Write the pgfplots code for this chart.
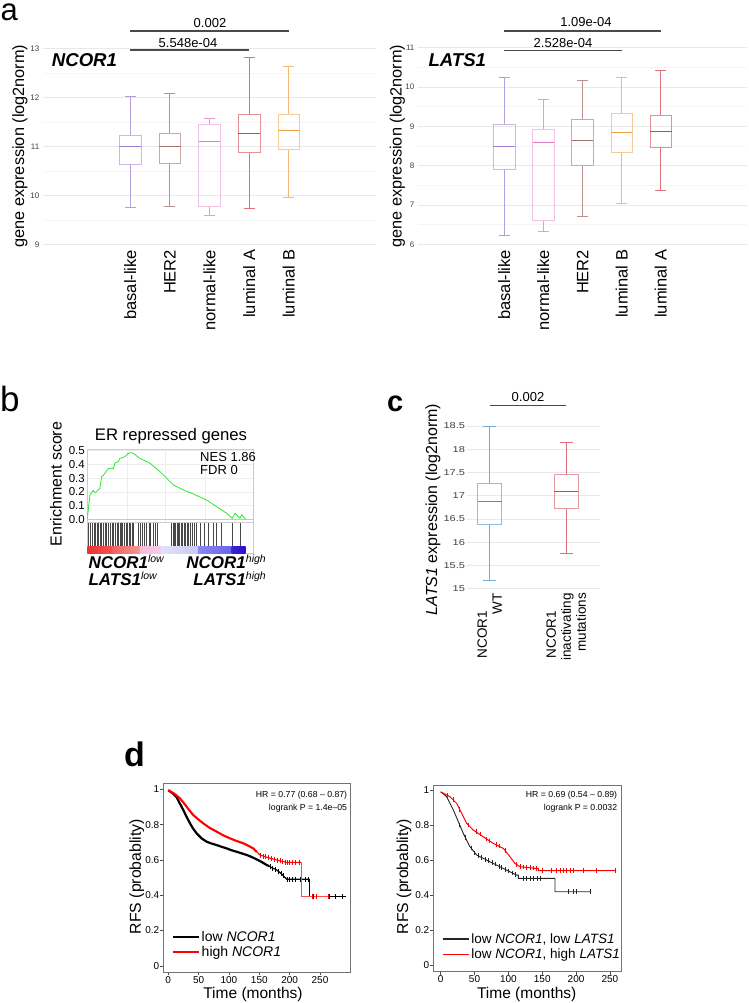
\documentclass[border=0pt]{standalone}
\usepackage{pgfplots}
\pgfplotsset{compat=1.18}
\usepgfplotslibrary{statistics}
\usepackage{fontspec}
\setmainfont{Liberation Sans}
\newcommand{\fs}[2]{\fontsize{#1}{#2}\selectfont}
\definecolor{cbas}{HTML}{9A7FD1}
\definecolor{cbasL}{HTML}{C9B9E9}
\definecolor{cher}{HTML}{A26E6A}
\definecolor{cherL}{HTML}{CBAAA6}
\definecolor{cnor}{HTML}{E27BC4}
\definecolor{cnorL}{HTML}{F1C2E3}
\definecolor{clA}{HTML}{D8404E}
\definecolor{clAL}{HTML}{E49098}
\definecolor{clB}{HTML}{F4A046}
\definecolor{clBL}{HTML}{F8C994}
\definecolor{cwt}{HTML}{4A8CC8}
\definecolor{cwtL}{HTML}{95BCE0}
\definecolor{cmut}{HTML}{D8404E}
\definecolor{cmutL}{HTML}{E59AA1}
\definecolor{gsgreen}{HTML}{2EE62E}
\definecolor{sigbar}{HTML}{4A4A4A}
\pgfplotsset{
  gg/.style={
    scale only axis, clip=false,
    axis line style={draw=none},
    major tick length=0pt, minor tick length=0pt,
    ymajorgrids,
    major grid style={draw=black!9, line width=0.6pt},
    minor grid style={draw=black!4, line width=0.5pt},
    /pgf/number format/assume math mode=true,
    yticklabel style={font=\fs{8}{9}, text=black!75, inner sep=0pt},
    yticklabel shift=3.5pt,
    boxplot/draw direction=y,
  },
  bx/.style n args={8}{
    boxplot prepared={draw position=#1, lower whisker=#2, lower quartile=#3, median=#4, upper quartile=#5, upper whisker=#6},
    draw=#8, line width=0.75pt,
    boxplot/every whisker/.style={draw=#7!75},
    boxplot/every median/.style={draw=#7, line width=1pt},
  },
  sig/.style={draw=sigbar, line width=1.6pt, forget plot},
  km/.style={
    scale only axis,
    axis line style={draw=black!55, line width=0.6pt},
    tick align=outside, major tick length=3pt, tick pos=left,
    tick style={draw=black!70, line width=0.5pt},
    ticklabel style={font=\fs{10}{11}, inner sep=0.8pt},
    /pgf/number format/assume math mode=true,
    xtick={0,50,100,150,200,250}, ytick={0,0.2,0.4,0.6,0.8,1},
    legend cell align=left,
    legend image code/.code={\draw[##1] (0pt,0pt) -- (26pt,0pt);},
  },
}
\begin{document}
\begin{tikzpicture}
\path[use as bounding box] (0pt,0pt) rectangle (748pt,-1003pt);

% ================= panel a, left =================
\node[anchor=base west, inner sep=0pt, font=\fs{31}{33}] at (0.5pt,-21pt) {a};
\begin{axis}[gg, at={(43pt,-45.85pt)}, anchor=north west, width=333pt, height=200.9pt,
  xmin=-1.2, xmax=7.2, ymin=8.95, ymax=13.05,
  ytick={9,10,11,12,13}, minor y tick num=1, yminorgrids,
  xtick={1,2,3,4,5}, xticklabels={basal-like,HER2,normal-like,luminal A,luminal B},
  x tick label style={rotate=90, anchor=east, font=\fs{16.5}{19}, inner sep=0pt},
  xticklabel shift=3pt,
  boxplot/box extend=0.55, boxplot/whisker extend=0.28]
\addplot[bx={1}{9.76}{10.63}{11.0}{11.23}{12.01}{cbas}{cbasL}] coordinates {};
\addplot[bx={2}{9.78}{10.66}{11.0}{11.27}{12.08}{cher}{cherL}] coordinates {};
\addplot[bx={3}{9.59}{9.78}{11.09}{11.44}{11.57}{cnor}{cnorL}] coordinates {};
\addplot[bx={4}{9.73}{10.87}{11.26}{11.66}{12.82}{clA}{clAL}] coordinates {};
\addplot[bx={5}{9.95}{10.94}{11.32}{11.65}{12.63}{clB}{clBL}] coordinates {};
\addplot[sig] coordinates {(1,13.353) (5,13.353)};
\addplot[sig] coordinates {(1,12.965) (4,12.965)};
\end{axis}
\node[anchor=base, font=\fs{13}{15}] at (210pt,-27.3pt) {0.002};
\node[anchor=base, font=\fs{13}{15}] at (188pt,-48pt) {5.548e-04};
\node[anchor=base west, inner sep=0pt, font=\fs{18.6}{20}\bfseries\itshape] at (51.7pt,-66.7pt) {NCOR1};
\node[rotate=90, font=\fs{16.3}{18}] at (20pt,-146pt) {gene expression (log2norm)};

% ================= panel a, right =================
\begin{axis}[gg, at={(418pt,-45.85pt)}, anchor=north west, width=329pt, height=200.9pt,
  xmin=-1.2, xmax=7.2, ymin=5.94, ymax=11.047,
  ytick={6,7,8,9,10,11}, minor y tick num=1, yminorgrids,
  xtick={1,2,3,4,5}, xticklabels={basal-like,normal-like,HER2,luminal B,luminal A},
  x tick label style={rotate=90, anchor=east, font=\fs{16.5}{19}, inner sep=0pt},
  xticklabel shift=3pt,
  boxplot/box extend=0.55, boxplot/whisker extend=0.28]
\addplot[bx={1}{6.23}{7.90}{8.48}{9.04}{10.24}{cbas}{cbasL}] coordinates {};
\addplot[bx={2}{6.33}{6.62}{8.58}{8.92}{9.69}{cnor}{cnorL}] coordinates {};
\addplot[bx={3}{6.72}{8.02}{8.64}{9.18}{10.18}{cher}{cherL}] coordinates {};
\addplot[bx={4}{7.04}{8.35}{8.84}{9.32}{10.25}{clB}{clBL}] coordinates {};
\addplot[bx={5}{7.37}{8.46}{8.88}{9.28}{10.42}{clA}{clAL}] coordinates {};
\addplot[sig] coordinates {(1,11.432) (5,11.432)};
\addplot[sig] coordinates {(1,10.924) (4,10.924)};
\end{axis}
\node[anchor=base, font=\fs{13}{15}] at (586pt,-26.7pt) {1.09e-04};
\node[anchor=base, font=\fs{13}{15}] at (563pt,-47.3pt) {2.528e-04};
\node[anchor=base west, inner sep=0pt, font=\fs{18.6}{20}\bfseries\itshape] at (428.3pt,-66.7pt) {LATS1};
\node[rotate=90, font=\fs{16.3}{18}] at (397.5pt,-146pt) {gene expression (log2norm)};

% ================= panel b =================
\node[anchor=base west, inner sep=0pt, font=\fs{35}{38}] at (0pt,-411.7pt) {b};
\node[font=\fs{16.7}{18}] at (171pt,-435.7pt) {ER repressed genes};
\begin{axis}[scale only axis, at={(87.3pt,-449pt)}, anchor=north west, width=166pt, height=73.7pt,
  xmin=0, xmax=1, ymin=-0.025, ymax=0.512,
  axis line style={draw=black!20, line width=0.5pt},
  xtick={0.24,0.47,0.71}, xticklabels={}, ytick={0,0.1,0.2,0.3,0.4,0.5},
  major tick length=0pt, xmajorgrids, ymajorgrids,
  major grid style={draw=black!7, line width=0.4pt},
  /pgf/number format/assume math mode=true,
  yticklabel style={font=\fs{11.5}{12}, inner sep=0pt, /pgf/number format/.cd, fixed, fixed zerofill, precision=1},
  yticklabel shift=2.3pt]
\addplot[draw=black!22, line width=0.5pt] coordinates {(0,0) (1,0)};
\addplot[draw=gsgreen, line width=0.8pt] coordinates {
(0.0,0.0) (0.006,0.068) (0.016,0.177) (0.036,0.21) (0.046,0.195) (0.056,0.20) (0.066,0.215) (0.076,0.225)
(0.086,0.31) (0.096,0.32) (0.106,0.335) (0.127,0.37) (0.140,0.372) (0.157,0.37) (0.167,0.41) (0.187,0.42)
(0.197,0.444) (0.227,0.456) (0.247,0.48) (0.267,0.485) (0.277,0.48) (0.317,0.444) (0.378,0.408)
(0.438,0.347) (0.518,0.25) (0.578,0.214) (0.639,0.184) (0.719,0.14) (0.779,0.092) (0.839,0.044)
(0.873,0.007) (0.890,0.044) (0.920,0.007) (0.930,0.032) (0.954,0.0)};
\end{axis}
\begin{axis}[scale only axis, at={(87.3pt,-522.7pt)}, anchor=north west, width=166pt, height=30.6pt,
  xmin=0, xmax=1, ymin=0, ymax=1, axis line style={draw=black!20, line width=0.5pt},
  xtick=\empty, ytick=\empty]
\addplot[ycomb, draw=black!72, line width=0.45pt, mark=none] coordinates {
(0.006,0.98) (0.016,0.98) (0.028,0.98) (0.040,0.98) (0.050,0.98) (0.060,0.98) (0.068,0.98) (0.076,0.98)
(0.086,0.98) (0.098,0.98) (0.108,0.98) (0.116,0.98) (0.127,0.98) (0.137,0.98) (0.149,0.98) (0.159,0.98)
(0.169,0.98) (0.181,0.98) (0.189,0.98) (0.197,0.98) (0.205,0.98) (0.213,0.98) (0.223,0.98) (0.233,0.98)
(0.243,0.98) (0.253,0.98) (0.261,0.98) (0.269,0.98) (0.277,0.98) (0.307,0.98) (0.317,0.98) (0.333,0.98)
(0.343,0.98) (0.357,0.98) (0.371,0.98) (0.382,0.98) (0.398,0.98) (0.410,0.98) (0.422,0.98) (0.508,0.98)
(0.516,0.98) (0.524,0.98) (0.532,0.98) (0.540,0.98) (0.548,0.98) (0.556,0.98) (0.564,0.98) (0.572,0.98)
(0.582,0.98) (0.590,0.98) (0.600,0.98) (0.610,0.98) (0.620,0.98) (0.633,0.98) (0.645,0.98) (0.659,0.98)
(0.679,0.98) (0.703,0.98) (0.729,0.98) (0.759,0.98) (0.779,0.98) (0.809,0.98) (0.873,0.98) (0.920,0.98)};
\addplot[draw=none, left color={rgb,255:red,238;green,48;blue,48}, right color={rgb,255:red,240;green,84;blue,84}] coordinates {(0,0.216) (0.15,0.216)} \closedcycle;
\addplot[draw=none, left color={rgb,255:red,240;green,96;blue,96}, right color={rgb,255:red,244;green,150;blue,150}] coordinates {(0.15,0.216) (0.317,0.216)} \closedcycle;
\addplot[draw=none, left color={rgb,255:red,246;green,186;blue,221}, right color={rgb,255:red,244;green,206;blue,234}] coordinates {(0.317,0.216) (0.448,0.216)} \closedcycle;
\addplot[draw=none, left color={rgb,255:red,228;green,226;blue,246}, right color={rgb,255:red,200;green,200;blue,242}] coordinates {(0.448,0.216) (0.668,0.216)} \closedcycle;
\addplot[draw=none, left color={rgb,255:red,138;green,136;blue,240}, right color={rgb,255:red,104;green,100;blue,234}] coordinates {(0.668,0.216) (0.869,0.216)} \closedcycle;
\addplot[draw=none, left color={rgb,255:red,58;green,34;blue,214}, right color={rgb,255:red,42;green,16;blue,204}] coordinates {(0.869,0.216) (0.954,0.216)} \closedcycle;
\end{axis}
\node[rotate=90, font=\fs{16}{18}] at (56pt,-484pt) {Enrichment score};
\node[anchor=base west, inner sep=0pt, font=\fs{13}{15}] at (200pt,-461.3pt) {NES 1.86};
\node[anchor=base west, inner sep=0pt, font=\fs{13}{15}] at (200pt,-474.6pt) {FDR 0};
\node[anchor=base west, inner sep=0pt, font=\fs{17}{18}] at (88.3pt,-568.5pt) {\textbf{\textit{NCOR1}}\raisebox{6pt}{\fs{10.5}{12}\itshape low}};
\node[anchor=base west, inner sep=0pt, font=\fs{17}{18}] at (88.3pt,-585pt) {\textbf{\textit{LATS1}}\raisebox{6pt}{\fs{10.5}{12}\itshape low}};
\node[anchor=base east, inner sep=0pt, font=\fs{17}{18}] at (266pt,-568.5pt) {\textbf{\textit{NCOR1}}\raisebox{6pt}{\fs{10.5}{12}\itshape high}};
\node[anchor=base east, inner sep=0pt, font=\fs{17}{18}] at (266pt,-585pt) {\textbf{\textit{LATS1}}\raisebox{6pt}{\fs{10.5}{12}\itshape high}};

% ================= panel c =================
\node[anchor=base west, inner sep=0pt, font=\fs{29}{32}\bfseries] at (387pt,-411.7pt) {c};
\begin{axis}[gg, at={(466.7pt,-421.4pt)}, anchor=north west, width=133.3pt, height=169.6pt,
  xmin=0.7, xmax=2.44, ymin=14.95, ymax=18.6,
  ytick={15,15.5,16,16.5,17,17.5,18,18.5},
  yticklabel={\scalebox{1.3}[1]{\pgfmathprintnumber{\tick}}},
  yticklabel style={font=\fs{8.5}{9}},
  yticklabel shift=1.5pt,
  xtick={1,2}, xticklabels={{NCOR1\rule{18pt}{0pt}\\WT},{NCOR1\rule{18pt}{0pt}\\inactivating\\mutations}},
  x tick label style={rotate=90, anchor=east, align=right, font=\fs{13.5}{15}, inner sep=0pt},
  xticklabel shift=2pt,
  boxplot/box extend=0.31, boxplot/whisker extend=0.165]
\addplot[bx={1}{15.17}{16.39}{16.88}{17.27}{18.5}{cwt}{cwtL}] coordinates {};
\addplot[bx={2}{15.77}{16.73}{17.09}{17.47}{18.14}{cmut}{cmutL}] coordinates {};
\addplot[sig] coordinates {(1,18.938) (2,18.938)};
\end{axis}
\node[anchor=base, font=\fs{13}{15}] at (528pt,-401.7pt) {0.002};
\node[rotate=90, font=\fs{16}{18}] at (433pt,-509.5pt) {\textit{LATS1} expression (log2norm)};

% ================= panel d =================
\node[anchor=base west, inner sep=0pt, font=\fs{34}{36}\bfseries] at (124pt,-766.7pt) {d};
\begin{axis}[km, at={(163.3pt,-783.3pt)}, anchor=north west, width=187.4pt, height=189pt,
  xmin=-8.2, xmax=300.6, ymin=-0.037, ymax=1.034,
  legend style={at={(0.045,0.147)}, anchor=west, draw=none, fill=none, font=\fs{14}{15},
    inner sep=0pt, row sep=-1pt, nodes={inner sep=2pt, anchor=west}}]
\addlegendimage{black, line width=1.8pt}
\addlegendentry{low \textit{NCOR1}}
\addlegendimage{red, line width=1.8pt}
\addlegendentry{high \textit{NCOR1}}
\addplot[forget plot, black, line width=2.2pt] coordinates {
(0,0.995) (8,0.975) (13.7,0.955) (19,0.92) (24.7,0.883) (30,0.845) (35.8,0.807) (41,0.777) (46.8,0.75)
(55,0.722) (63.3,0.703) (71,0.693) (79.8,0.684) (88,0.674) (96.3,0.665) (104,0.655) (112.7,0.646)
(121,0.637) (129.2,0.628) (137,0.617) (145.7,0.603) (154,0.588) (162.2,0.571) (166,0.565)};
\addplot[forget plot, black, line width=1.2pt] coordinates {
(166,0.565) (170,0.557) (178.7,0.543) (187,0.52) (195.2,0.49) (232.5,0.49)};
\addplot[forget plot, black, line width=0.6pt] coordinates {(232.5,0.49) (232.5,0.391) (292.9,0.391)};
\addplot[forget plot, only marks, mark=|, mark size=2.5pt, black, mark options={line width=0.5pt}] coordinates {
(168,0.561) (172,0.554) (177,0.546) (181,0.537) (186,0.523) (190,0.51) (196,0.49) (200,0.49) (205,0.49)
(210,0.49) (218,0.49) (225,0.49) (230,0.49) (239,0.391) (266,0.391) (274.5,0.391) (287,0.391)};
\addplot[forget plot, red, line width=2.1pt] coordinates {
(0,0.995) (10,0.975) (19.2,0.949) (25,0.925) (30.3,0.901) (35,0.88) (41.2,0.854) (50,0.828) (57.7,0.807)
(68,0.782) (79.8,0.76) (90,0.74) (101.7,0.722) (112,0.708) (123.6,0.694) (132,0.68) (140.1,0.665) (146,0.645)};
\addplot[forget plot, red, line width=1.1pt] coordinates {
(146,0.645) (151.1,0.628) (162.2,0.615) (173,0.605) (184.1,0.595) (195,0.586) (218.8,0.586)};
\addplot[forget plot, red!70, line width=0.6pt] coordinates {(218.8,0.586) (218.8,0.391) (266.5,0.391)};
\addplot[forget plot, only marks, mark=|, mark size=2.5pt, red, mark options={line width=0.5pt}] coordinates {
(152,0.627) (156,0.622) (160,0.618) (165,0.612) (170,0.608) (175,0.603) (180,0.598) (185,0.594) (188,0.592)
(192,0.588) (196,0.586) (200,0.586) (205,0.586) (210,0.586) (215,0.586) (237,0.391) (244,0.391) (263,0.391)};
\end{axis}
\node[anchor=base east, inner sep=0pt, font=\fs{8.7}{10}] at (347.3pt,-797.3pt) {HR = 0.77 (0.68 – 0.87)};
\node[anchor=base east, inner sep=0pt, font=\fs{8.7}{10}] at (347.3pt,-810.2pt) {logrank P = 1.4e–05};
\node[rotate=90, font=\fs{15.8}{17}] at (136.7pt,-876.7pt) {RFS (probablity)};
\node[anchor=base, inner sep=0pt, font=\fs{15.5}{17}] at (253pt,-998.3pt) {Time (months)};

\begin{axis}[km, at={(433.3pt,-785pt)}, anchor=north west, width=188.4pt, height=186.7pt,
  xmin=-10.9, xmax=267.4, ymin=-0.038, ymax=1.029,
  legend style={at={(0.045,0.134)}, anchor=west, draw=none, fill=none, font=\fs{13.5}{15},
    inner sep=0pt, row sep=0pt, nodes={inner sep=2pt, anchor=west}}]
\addlegendimage{black!85, line width=1.5pt}
\addlegendentry{low \textit{NCOR1}, low \textit{LATS1}}
\addlegendimage{red, line width=1.5pt}
\addlegendentry{low \textit{NCOR1}, high \textit{LATS1}}
\addplot[forget plot, black!85, line width=0.9pt] coordinates {
(0,0.99) (8.9,0.962) (13.8,0.924) (18.7,0.886) (26.1,0.819) (33.5,0.752) (43.3,0.676) (53.1,0.629)
(63,0.61) (72.8,0.59) (82.7,0.571) (92.5,0.552) (102.4,0.533) (112.2,0.514) (114.7,0.514) (114.7,0.495)
(168.8,0.495) (168.8,0.419) (220.5,0.419)};
\addplot[forget plot, only marks, mark=|, mark size=2.3pt, black!85, mark options={line width=0.5pt}] coordinates {
(28,0.80) (36,0.73) (45,0.67) (50,0.64) (56,0.625) (60,0.615) (66,0.605) (70,0.597) (76,0.585) (80,0.577)
(86,0.565) (90,0.557) (96,0.546) (100,0.538) (106,0.527) (110,0.518) (122,0.495) (127,0.495) (132,0.495)
(137,0.495) (142,0.495) (147,0.495) (188.5,0.419) (195.9,0.419) (200.8,0.419) (220.5,0.419)};
\addplot[forget plot, red, line width=1pt] coordinates {
(0,0.99) (13.8,0.962) (23.6,0.924) (31,0.867) (38.4,0.81) (48.2,0.771) (63,0.733) (77.8,0.695)
(92.5,0.667) (102.4,0.619) (109.7,0.581) (117.1,0.562) (141.7,0.552) (144.2,0.552) (144.2,0.539) (257.4,0.539)};
\addplot[forget plot, only marks, mark=|, mark size=2.3pt, red, mark options={line width=0.5pt}] coordinates {
(10,0.97) (18,0.945) (28,0.89) (40,0.80) (52,0.765) (58,0.748) (68,0.72) (72,0.71) (82,0.688) (86,0.68)
(96,0.655) (112,0.575) (118,0.562) (122,0.56) (127,0.558) (132,0.556) (137,0.554) (141,0.552) (150,0.539)
(163.9,0.539) (171.3,0.539) (176.2,0.539) (181.1,0.539) (186,0.539) (191,0.539) (195.9,0.539) (210.6,0.539)
(230.3,0.539) (257.4,0.539)};
\end{axis}
\node[anchor=base east, inner sep=0pt, font=\fs{8.7}{10}] at (617.3pt,-797.6pt) {HR = 0.69 (0.54 – 0.89)};
\node[anchor=base east, inner sep=0pt, font=\fs{8.7}{10}] at (617.3pt,-810.8pt) {logrank P = 0.0032};
\node[rotate=90, font=\fs{15.8}{17}] at (404pt,-876.7pt) {RFS (probablity)};
\node[anchor=base, inner sep=0pt, font=\fs{15.5}{17}] at (526.7pt,-998.3pt) {Time (months)};
\end{tikzpicture}
\end{document}
